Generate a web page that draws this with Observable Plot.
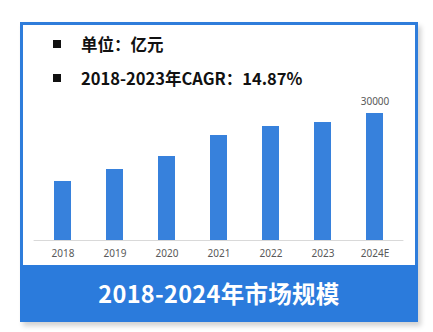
<!DOCTYPE html>
<html>
<head>
<meta charset="utf-8">
<script src="https://cdn.jsdelivr.net/npm/d3@7"></script>
<script src="https://cdn.jsdelivr.net/npm/@observablehq/plot@0.6"></script>
<style>
  html, body { margin: 0; padding: 0; background: #ffffff; width: 433px; height: 332px; overflow: hidden; }
  body { position: relative; font-family: "Noto Sans CJK SC", "Noto Sans", sans-serif; }
  #frame { position: absolute; left: 20px; top: 22px; width: 398px; height: 300px; box-sizing: border-box;
           border: 3px solid #2f7ddb; background: #fff; box-shadow: 3px 4px 5px rgba(0,0,0,0.18); }
  .leg { position: absolute; left: 53px; font-size: 16.5px; font-weight: bold; color: #111; white-space: nowrap; line-height: 1; }
  .leg .sq { display: inline-block; width: 8px; height: 8px; background: #111; margin-right: 20px; vertical-align: 3px; }
  #chart { position: absolute; left: 20px; top: 90px; }
  #banner { position: absolute; left: 20px; top: 265px; width: 398px; height: 57px; background: #2b7bdc;
            color: #fff; font-size: 23.5px; font-weight: bold; text-align: center; line-height: 57px; letter-spacing: 0.3px; }
</style>
</head>
<body>
<div id="frame"></div>
<div id="leg1" class="leg" style="top:36px"></div>
<div id="leg2" class="leg" style="top:70px"></div>
<div id="chart"></div>
<div id="banner"></div>
<script>
const years = ["2018", "2019", "2020", "2021", "2022", "2023", "2024E"];
const values = [13940, 16770, 19840, 24800, 26930, 27870, 30000];
const labelled = ["2024E"];
const legendTexts = ["单位：亿元", "2018-2023年CAGR：14.87%"];
const title = "2018-2024年市场规模";

const data = years.map((y, i) => ({year: y, value: values[i]}));

document.getElementById("leg1").innerHTML = '<span class="sq"></span>' + legendTexts[0];
document.getElementById("leg2").innerHTML = '<span class="sq"></span>' + legendTexts[1];
document.getElementById("banner").textContent = title;

const plot = Plot.plot({
  width: 398,
  height: 175,
  marginLeft: 13.6,
  marginRight: 14.6,
  marginTop: 23,
  marginBottom: 25,
  style: {fontFamily: "'Noto Sans', 'Open Sans', sans-serif", background: "transparent"},
  x: {domain: years, paddingInner: 0.68, paddingOuter: 0.34, label: null},
  y: {domain: [0, 30000], axis: null},
  marks: [
    Plot.barY(data, {x: "year", y: "value", fill: "#3781dc"}),
    Plot.ruleY([0], {stroke: "#d9d9d9", strokeWidth: 1}),
    Plot.text(data.filter(d => labelled.includes(d.year)), {x: "year", y: "value", text: d => String(d.value), dy: -12, fontSize: 10, fill: "#595959"}),
    Plot.axisX({tickSize: 0, tickPadding: 9, fontSize: 10, color: "#595959", label: null})
  ]
});
document.getElementById("chart").appendChild(plot);
</script>
</body>
</html>
